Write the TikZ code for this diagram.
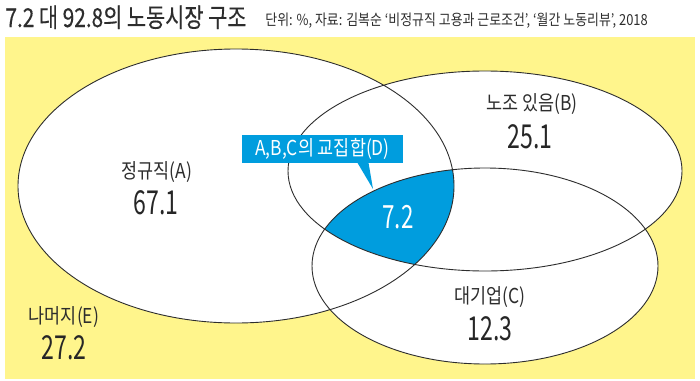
\documentclass[tikz,border=0pt]{standalone}
\usepackage{fontspec}
\setmainfont{Noto Sans CJK KR}[FakeStretch=0.85]
\newfontfamily\numfont{Noto Sans CJK KR}[FakeStretch=0.7]
\newfontfamily\titlefont{Noto Sans CJK KR}[FakeStretch=0.8,FakeBold=0.4]
\usetikzlibrary{positioning}

\definecolor{paleyellow}{RGB}{255,245,140}
\definecolor{setblue}{RGB}{0,157,222}
\definecolor{inkgray}{RGB}{45,45,45}

% the three sets
\newcommand\ellA{(236,186) ellipse (218 and 137)}
\newcommand\ellB{(485,171) ellipse (197 and 100)}
\newcommand\ellC{(485,266) ellipse (173 and 98)}

\begin{document}
\begin{tikzpicture}[x=1pt,y=-1pt,inner sep=0pt,text=inkgray,
                    line width=0.9pt]
  \tikzstyle{setname}=[font=\fontsize{20.5}{20.5}\selectfont]
  \tikzstyle{setval}=[font=\numfont\fontsize{33}{33}\selectfont,text=black!85]

  \useasboundingbox (0,0) rectangle (700,380);

  \node[anchor=base west,font=\titlefont\fontsize{26}{26}\selectfont] (title)
       at (5,27) {7.2 대 92.8의 노동시장 구조};
  \node[anchor=base west,font=\fontsize{15.2}{15.2}\selectfont] (source)
       at (265,25) {단위: \%, 자료: 김복순 ‘비정규직 고용과 근로조건’, ‘월간 노동리뷰’, 2018};

  \fill[paleyellow] (5,37) rectangle (695,379);
  \fill[white] \ellA \ellB \ellC;
  \begin{scope}
    \clip \ellA;
    \clip \ellB;
    \fill[setblue] \ellC;
  \end{scope}
  \draw[inkgray] \ellA \ellB \ellC;

  \node[setname] (A)    at (157,172) {정규직(A)};
  \node[setval]  (Aval) at (156,203) {67.1};
  \node[setname] (B)    at (532,104) {노조 있음(B)};
  \node[setval]  (Bval) at (530,137) {25.1};
  \node[setname] (C)    at (490,297) {대기업(C)};
  \node[setval]  (Cval) at (490,329) {12.3};
  \node[setname] (E)    at (64,317)  {나머지(E)};
  \node[setval]  (Eval) at (64,348)  {27.2};
  \node[setval,text=white,font=\numfont\fontsize{32}{32}\selectfont]
                 (Dval) at (398,217) {7.2};

  % callout
  \node[setname,fill=setblue,text=white,minimum width=161pt,
        minimum height=28pt] (D) at (322.5,149) {A,B,C의 교집합(D)};
  \coordinate (Dtip) at (373,189);
  \fill[setblue] ([xshift=116pt,yshift=0.5pt]D.south west) -- (Dtip)
                 -- ([xshift=127pt,yshift=0.5pt]D.south west) -- cycle;
\end{tikzpicture}
\end{document}
